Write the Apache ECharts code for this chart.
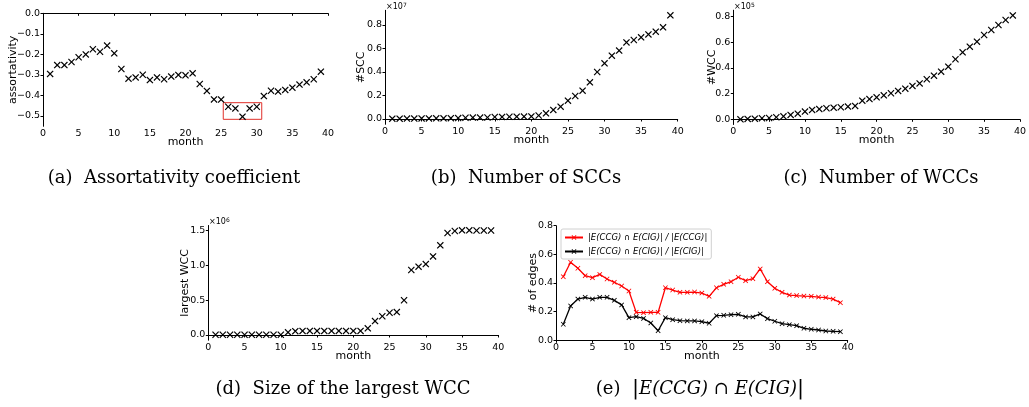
<!DOCTYPE html>
<html><head><meta charset="utf-8">
<script src="https://cdn.jsdelivr.net/npm/echarts@6/dist/echarts.min.js"></script>
<style>html,body{margin:0;padding:0;background:#fff}#c{width:1029px;height:407px}</style>
</head><body><div id="c"></div>
<script>
const months = [1,2,3,4,5,6,7,8,9,10,11,12,13,14,15,16,17,18,19,20,21,22,23,24,25,26,27,28,29,30,31,32,33,34,35,36,37,38,39];
const assortativity = [-0.295,-0.252,-0.252,-0.237,-0.214,-0.2,-0.175,-0.187,-0.157,-0.195,-0.271,-0.318,-0.312,-0.299,-0.325,-0.312,-0.321,-0.308,-0.3,-0.302,-0.292,-0.344,-0.378,-0.419,-0.42,-0.455,-0.463,-0.503,-0.463,-0.455,-0.403,-0.377,-0.381,-0.373,-0.362,-0.347,-0.336,-0.321,-0.284];
const sccCount = [0.003,0.003,0.004,0.004,0.005,0.005,0.006,0.006,0.007,0.008,0.011,0.012,0.012,0.013,0.017,0.018,0.019,0.02,0.021,0.022,0.03,0.048,0.077,0.105,0.156,0.196,0.241,0.312,0.4,0.474,0.539,0.582,0.652,0.672,0.695,0.72,0.743,0.78,0.882];
const wccCount = [0.0,0.003,0.005,0.008,0.01,0.016,0.023,0.034,0.044,0.06,0.073,0.08,0.086,0.091,0.094,0.099,0.104,0.145,0.158,0.171,0.187,0.203,0.221,0.239,0.26,0.28,0.312,0.34,0.371,0.41,0.468,0.522,0.566,0.605,0.657,0.696,0.735,0.774,0.81];
const largestWcc = [0.003,0.003,0.003,0.003,0.003,0.003,0.003,0.003,0.003,0.003,0.038,0.055,0.058,0.058,0.058,0.058,0.058,0.058,0.058,0.058,0.058,0.096,0.2,0.27,0.32,0.33,0.5,0.935,0.983,1.02,1.13,1.29,1.467,1.496,1.505,1.505,1.503,1.503,1.503];
const ratioCCG = [0.444,0.545,0.503,0.451,0.437,0.46,0.428,0.405,0.379,0.344,0.195,0.193,0.195,0.195,0.367,0.351,0.335,0.335,0.337,0.33,0.307,0.367,0.391,0.409,0.44,0.416,0.43,0.498,0.409,0.363,0.335,0.316,0.312,0.309,0.307,0.302,0.298,0.288,0.263];
const ratioCIG = [0.112,0.24,0.288,0.3,0.288,0.3,0.3,0.279,0.247,0.158,0.165,0.153,0.121,0.067,0.158,0.144,0.137,0.135,0.135,0.13,0.119,0.172,0.174,0.179,0.181,0.163,0.163,0.184,0.151,0.133,0.116,0.109,0.102,0.084,0.077,0.072,0.065,0.063,0.06];
const assortTicks = [0,-0.1,-0.2,-0.3,-0.4,-0.5];
const sccTicks = [0,0.2,0.4,0.6,0.8];
const wccTicks = [0,0.2,0.4,0.6,0.8];
const largestTicks = [0,0.5,1.0,1.5];
const edgeTicks = [0,0.2,0.4,0.6,0.8];
const highlightBox = [[25.3,-0.435],[30.7,-0.516]];
const legendNames = ['|E(CCG) ∩ E(CIG)| / |E(CCG)|','|E(CCG) ∩ E(CIG)| / |E(CIG)|'];

const XSYM = 'path://M0,1.2L1.2,0L5,3.8L8.8,0L10,1.2L6.2,5L10,8.8L8.8,10L5,6.2L1.2,10L0,8.8L3.8,5Z';
const SANS = 'DejaVu Sans';
const fmt = v => (v < 0 ? '\u2212' : '') + Math.abs(v).toFixed(1);
const pair = (xs, ys) => xs.map((x, i) => [x, ys[i]]);

const grids = [
  {left:43, top:13.3, width:285, height:113},
  {left:385, top:10.3, width:292.7, height:114},
  {left:733.3, top:10.2, width:289.4, height:114.3},
  {left:208.3, top:225.5, width:290, height:114.7},
  {left:556, top:225.7, width:291.7, height:114.6}
];
const yCfg = [
  {min:-0.55, max:0, ticks:assortTicks, name:'assortativity', gap:24},
  {min:-0.045, max:0.925, ticks:sccTicks, name:'#SCC', gap:18},
  {min:-0.0405, max:0.8505, ticks:wccTicks, name:'#WCC', gap:16},
  {min:-0.075, max:1.575, ticks:largestTicks, name:'largest WCC', gap:18},
  {min:0, max:0.8, ticks:edgeTicks, name:'# of edges', gap:17}
];
const axisLine = {show:true, lineStyle:{color:'#000', width:1}};
const xAxes = grids.map((g, i) => ({
  type:'value', gridIndex:i, min:0, max:40, interval:5,
  name:'month', nameLocation:'middle', nameGap:10, nameMoveOverlap:false,
  nameTextStyle:{fontFamily:SANS, fontSize:11, color:'#000'},
  axisLine, splitLine:{show:false},
  axisTick:{show:true, length:2.5, lineStyle:{color:'#000', width:1}},
  axisLabel:{fontFamily:SANS, fontSize:9.5, color:'#000', margin:2.5}
}));
const yAxes = yCfg.map((c, i) => ({
  type:'value', gridIndex:i, min:c.min, max:c.max,
  name:c.name, nameLocation:'middle', nameGap:c.gap, nameMoveOverlap:false,
  nameTextStyle:{fontFamily:SANS, fontSize:11, color:'#000'},
  axisLine, splitLine:{show:false},
  axisTick:{show:true, length:2.5, customValues:c.ticks, lineStyle:{color:'#000', width:1}},
  axisLabel:{fontFamily:SANS, fontSize:9.5, color:'#000', margin:3, customValues:c.ticks, formatter:fmt}
}));

const scatter = (i, ys, extra) => Object.assign({
  type:'scatter', xAxisIndex:i, yAxisIndex:i, data:pair(months, ys),
  symbol:XSYM, symbolSize:7, itemStyle:{color:'#000', opacity:1}, silent:true, z:3
}, extra || {});

const series = [
  scatter(0, assortativity, {markArea:{silent:true, itemStyle:{color:'rgba(0,0,0,0)', borderColor:'#e0302a', borderWidth:1},
    data:[[{coord:highlightBox[0]},{coord:highlightBox[1]}]]}}),
  scatter(1, sccCount),
  scatter(2, wccCount),
  scatter(3, largestWcc),
  {type:'line', name:legendNames[0], xAxisIndex:4, yAxisIndex:4, data:pair(months, ratioCCG),
   symbol:XSYM, symbolSize:5, showAllSymbol:true, itemStyle:{color:'#ff0000'}, lineStyle:{color:'#ff0000', width:1.3}, silent:true},
  {type:'line', name:legendNames[1], xAxisIndex:4, yAxisIndex:4, data:pair(months, ratioCIG),
   symbol:XSYM, symbolSize:5, showAllSymbol:true, itemStyle:{color:'#000'}, lineStyle:{color:'#000', width:1.3}, silent:true}
];

const SERIF = 'DejaVu Serif';
const cap = (x, y, text, rich) => ({type:'text', x, y, style:{text, fontFamily:SERIF, fontSize:18, fill:'#000', align:'center', verticalAlign:'middle', rich}});
const sup = (x, y, p) => ({type:'text', x, y, style:{text:'×10{s|' + p + '}', fontFamily:SANS, fontSize:8, fill:'#000', align:'left', verticalAlign:'top', rich:{s:{fontSize:6, verticalAlign:'top', padding:[0,0,4,0], fontFamily:SANS}}}});
const capRich = {i:{fontStyle:'italic', fontFamily:SERIF, fontSize:18}, b:{fontFamily:SERIF, fontSize:21}};

const chart = echarts.init(document.getElementById('c'), null, {renderer:'canvas'});
chart.setOption({
  animation:false,
  backgroundColor:'#fff',
  grid:grids,
  xAxis:xAxes,
  yAxis:yAxes,
  legend:{data:legendNames, orient:'vertical', left:561, top:229, itemWidth:18, itemHeight:6, itemGap:5,
    padding:[4,4,3,3], borderColor:'#d0d0d0', borderWidth:1, borderRadius:2, backgroundColor:'#fff',
    textStyle:{fontFamily:SANS, fontSize:8.5, fontStyle:'italic', color:'#000'}},
  series,
  graphic:[
    sup(386, 2, 7), sup(734, 2, 5), sup(209, 217, 6),
    cap(174, 178, '(a)  Assortativity coefficient'),
    cap(526, 178, '(b)  Number of SCCs'),
    cap(881, 178, '(c)  Number of WCCs'),
    cap(343, 389, '(d)  Size of the largest WCC'),
    cap(700, 389, '(e)  {b||}{i|E(CCG)} ∩ {i|E(CIG)}{b||}', capRich)
  ]
});
</script></body></html>
